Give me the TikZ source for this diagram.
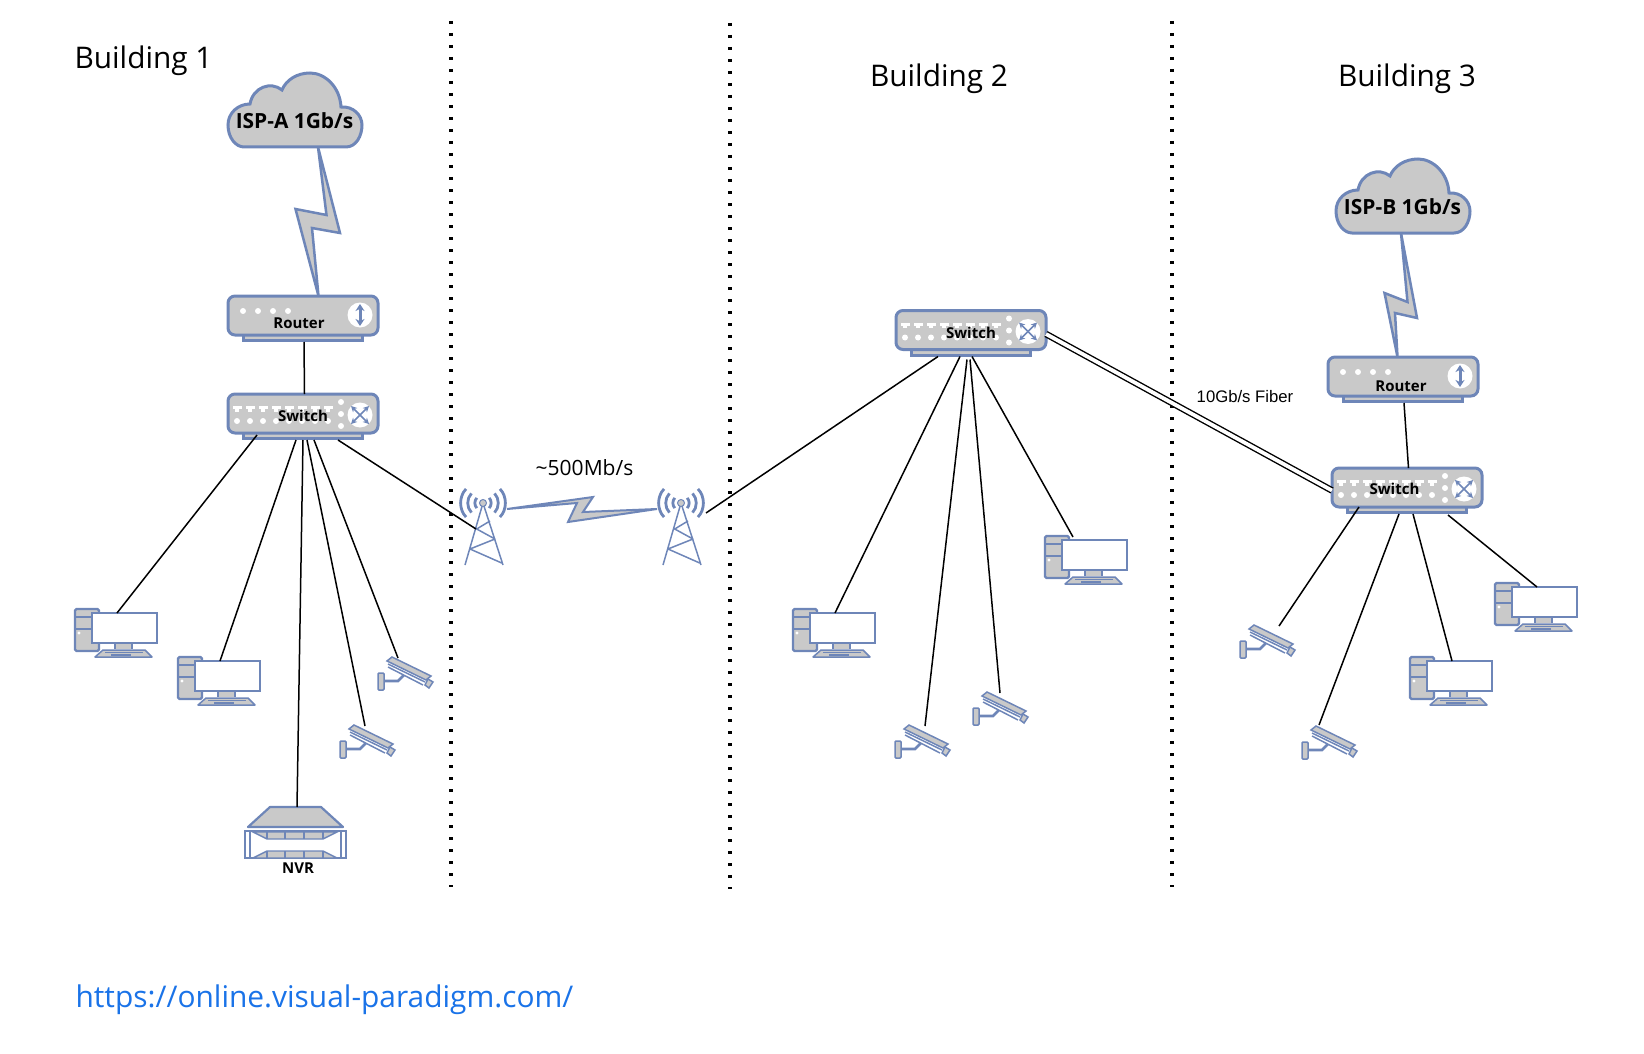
\documentclass[tikz,border=0pt]{standalone}
\usepackage{fontspec}
\setmainfont{Open Sans}
\newfontfamily\fiberfont{Liberation Sans}
\usetikzlibrary{arrows.meta, positioning, calc}
\definecolor{netblue}{HTML}{6E86B8}
\definecolor{netgray}{HTML}{C9C9C9}
\definecolor{urlblue}{HTML}{1A73E8}

\begin{document}
\begin{tikzpicture}[
    x=1pt, y=-1pt,
    devbox/.style={draw=netblue, fill=netgray, line width=3pt, rounded corners=7pt,
                   minimum width=150pt, minimum height=39pt, inner sep=0pt, outer sep=0pt},
    devtext/.style={font=\fontsize{15}{18}\selectfont\bfseries, inner sep=0pt},
    isptext/.style={font=\fontsize{20.9}{24}\selectfont\bfseries, inner sep=0pt},
    bldtext/.style={font=\fontsize{29.8}{34}\selectfont, inner sep=0pt},
    shape line/.style={draw=netblue, fill=netgray, line width=2.2pt},
    bolt/.style={draw=netblue, fill=netgray, line width=2.5pt, line join=miter},
    link/.style={draw=black, line width=1.5pt},
    fiber/.style={draw=black, line width=1.4pt, double=white, double distance=3.8pt},
    pics/router/.style={code={
      \fill[netblue] (15,38) rectangle (137,46);
      \fill[netgray] (18,38) rectangle (134,43);
      \node[devbox] (-body) at (76,19.5) {};
      \coordinate (-foot) at (75.5,46);
      \foreach \dotx in {16,31,46,61} \fill[white] (\dotx,15) circle (3);
      \fill[white] (133,19) circle (12.5);
      \draw[netblue, line width=3pt, {Stealth[length=7pt,width=9pt]}-{Stealth[length=7pt,width=9pt]}]
        (133,8) -- (133,30);
      \node[devtext] (-label) at (#1) {Router};
    }},
    pics/router/.default={72,27},
    pics/switch/.style={code={
      \fill[netblue] (15,38) rectangle (137,46);
      \fill[netgray] (18,38) rectangle (134,43);
      \node[devbox] (-body) at (76,19.5) {};
      \coordinate (-foot) at (75.5,46);
      \foreach \portx in {10,23,36,49,62,75,88,101} {
        \fill[white] (\portx-4.5,12) rectangle ++(9,3);
        \fill[white] (\portx-2,15) rectangle ++(4,2.5);
        \fill[white] (\portx,27) circle (3);
      }
      \foreach \doty in {8,20,32} \fill[white] (114,\doty) circle (3);
      \fill[white] (133,21) circle (12.5);
      \draw[netblue, line width=1.5pt, {Stealth[length=6pt,width=6pt]}-{Stealth[length=6pt,width=6pt]}]
        (124,12) -- (142,30);
      \draw[netblue, line width=1.5pt, {Stealth[length=6pt,width=6pt]}-{Stealth[length=6pt,width=6pt]}]
        (142,12) -- (124,30);
      \node[devtext] (-label) at (#1) {Switch};
    }},
    pics/switch/.default={76,22},
    pics/isp/.style={code={
      \draw[draw=netblue, fill=netgray, line width=3pt]
        (17,74) -- (119,74) .. controls (129,74) and (135,63) .. (135,52)
        .. controls (135,42) and (126,33) .. (114,34)
        .. controls (113,14) and (98,0) .. (83,0)
        .. controls (70,0) and (59,7) .. (55,17)
        .. controls (44,8) and (26,14) .. (23,31)
        .. controls (11,31) and (1,40) .. (1,52)
        .. controls (1,65) and (9,74) .. (17,74) -- cycle;
      \coordinate (-foot) at (68,74);
      \node[isptext] (-label) at (67.5,48) {#1};
    }},
    pics/pc/.style={code={
      \draw[shape line, rounded corners=1.5pt] (0,0) rectangle (24,42);
      \draw[netblue, line width=1.6pt] (0,8) -- (17,8) (0,20) -- (17,20);
      \fill[white] (4,24) circle (1.7);
      \fill[netgray] (40,34) rectangle (57,40);
      \draw[netblue, line width=1.2pt] (40,34) -- (40,40) (57,34) -- (57,40);
      \draw[draw=netblue, fill=white, line width=2.8pt] (17,4) rectangle (82,34);
      \draw[shape line, line width=1.5pt, line join=round] (28,41) -- (70,41) -- (77,48) -- (20,48) -- cycle;
      \draw[netblue, line width=1.4pt] (30,43.5) -- (68,43.5) (36,46) -- (56,46);
      \coordinate (-top) at (42,4);
    }},
    pics/cam/.style={code={
      \draw[shape line, line width=1.5pt, rounded corners=1pt] (0,0) rectangle (6,17);
      \draw[netblue, line width=2.6pt] (6,8) -- (20,8) -- (26,2);
      \draw[netblue, line width=1.5pt] (10,-9) -- (47,9) (10,-6) -- (45,12);
      \draw[shape line, line width=1.5pt] (14,-16) -- (53,3) -- (48,7) -- (9,-12) -- cycle;
      \draw[shape line, line width=1.5pt] (50,6) -- (55,9) -- (51,15) -- (47,12) -- cycle;
      \coordinate (-top) at (20,-15);
    }},
    pics/mast/.style={code={
      \draw[netblue, line width=1.5pt, line join=round]
        (-18,62) -- (0,0) -- (20,62)
        (7,18) -- (-6.3,26) -- (12,36) -- (-13,46) -- (18.7,60);
      \fill[netgray, draw=netblue, line width=1pt] (0,0) circle (3.5);
      \foreach \rr in {8,15,22} \foreach \sgn in {1,-1}
        \draw[netblue, line width=2.8pt]
          ({\sgn*\rr*.77},{-\rr*.64}) .. controls ({\sgn*\rr*1.1},{-\rr*.3})
          and ({\sgn*\rr*1.1},{\rr*.3}) .. ({\sgn*\rr*.77},{\rr*.64});
      \coordinate (-leg) at (-7,26);
    }},
    pics/nvr/.style={code={
      \draw[shape line, line join=round] (25,0) -- (76,0) -- (98,20) -- (3,20) -- cycle;
      \draw[netblue, line width=1.8pt] (0,24) rectangle (101,51) (5,24) -- (5,51) (96,24) -- (96,51);
      \draw[shape line, line width=1.4pt] (8,25) -- (92,25) -- (78,32) -- (22,32) -- cycle;
      \draw[shape line, line width=1.4pt] (8,51) -- (22,44) -- (78,44) -- (92,51) -- cycle;
      \draw[netblue, line width=1.4pt] (22,25) -- (22,32) (40,25) -- (40,32) (59,25) -- (59,32) (78,25) -- (78,32)
        (22,44) -- (22,51) (40,44) -- (40,51) (59,44) -- (59,51) (78,44) -- (78,51);
      \coordinate (-top) at (52,0);
      \node[devtext] (-label) at (53,61) {NVR};
    }}
  ]
  \useasboundingbox (0,0) rectangle (1644,1054);

  % Building borders
  \foreach \borderx/\bordery in {451/21, 730/23, 1172/21}
    \draw[black, line width=3.4pt, dash pattern=on 3.4pt off 8.6pt] (\borderx,\bordery) -- (\borderx,\bordery+866);

  % Titles
  \node[bldtext] (bld1) at (143.5,61) {Building 1};
  \node[bldtext] (bld2) at (939,79) {Building 2};
  \node[bldtext] (bld3) at (1407,79) {Building 3};
  \node[font=\fontsize{21}{24}\selectfont, inner sep=0pt] (wifilabel) at (584.5,468) {\textasciitilde500Mb/s};
  \node[font=\fontsize{16.7}{20}\selectfont\fiberfont, inner sep=0pt] (fiberlabel) at (1245,397) {10Gb/s Fiber};
  \node[font=\fontsize{29.9}{34}\selectfont, text=urlblue, inner sep=0pt] (url) at (324.5,1000) {https://online.visual-paradigm.com/};

  % Building 1 devices
  \pic (isp1) at (227,73) {isp={ISP-A 1Gb/s}};
  \pic (rt1) at (227,296) {router};
  \pic (sw1) at (227,394) {switch};
  \pic (pc1) at (75,609) {pc};
  \pic (pc2) at (178,657) {pc};
  \pic (cam1) at (378,673) {cam};
  \pic (cam2) at (340,741) {cam};
  \pic (nvr1) at (245,807) {nvr};

  % Radio link
  \pic (tw1) at (483,503) {mast};
  \pic (tw2) at (681,503) {mast};
  \coordinate (tw1e) at (507,509);
  \coordinate (tw2w) at (657,509);
  \coordinate (tw2e) at (706,513);

  % Building 2 devices
  \pic (sw2) at (895,310.5) {switch};
  \pic (pc3) at (793,609) {pc};
  \pic (pc4) at (1045,536) {pc};
  \pic (cam3) at (895,741) {cam};
  \pic (cam4) at (973,708) {cam};

  % Building 3 devices
  \pic (isp2) at (1335,159) {isp={ISP-B 1Gb/s}};
  \pic (rt2) at (1327,357) {router={74,29}};
  \pic (sw3) at (1331,468) {switch={63.5,21}};
  \pic (pc5) at (1495,583) {pc};
  \pic (pc6) at (1410,657) {pc};
  \pic (cam5) at (1240,641) {cam};
  \pic (cam6) at (1302,742) {cam};

  % Bolts
  \draw[bolt] ([xshift=23pt]isp1-foot) -- ++(22,86) -- ++(-28,-5)
    -- ([xshift=15.5pt]rt1-body.north) -- ++(-23,-87) -- ++(31,6) -- cycle;
  \draw[bolt] ([xshift=-2pt]isp2-foot) -- ++(16,85) -- ++(-22,-5)
    -- ([xshift=-5.5pt]rt2-body.north) -- ++(-13,-64) -- ++(23,9) -- cycle;
  \draw[bolt, line width=2pt] (tw1e) -- ++(86,-12) -- ++(-10,15)
    -- (tw2w) -- ++(-89,13) -- ++(9,-19) -- cycle;

  % Building 1 links
  \draw[link] ([xshift=1.5pt]rt1-foot) -- ([xshift=1.5pt]sw1-body.north);
  \draw[link] ([xshift=-45.5pt,yshift=5pt]sw1-foot) -- (pc1-top);
  \draw[link] ([xshift=-6.5pt]sw1-foot) -- (pc2-top);
  \draw[link] ([xshift=0.5pt]sw1-foot) -- (nvr1-top);
  \draw[link] ([xshift=4.5pt]sw1-foot) -- ([xshift=5pt]cam2-top);
  \draw[link] ([xshift=11.5pt]sw1-foot) -- (cam1-top);
  \draw[link] ([xshift=35.5pt]sw1-foot) -- (tw1-leg);

  % Building 2 links
  \draw[link] (tw2e) -- ([xshift=-32.5pt]sw2-foot);
  \draw[link] ([xshift=-10.5pt]sw2-foot) -- (pc3-top);
  \draw[link] ([xshift=-3.5pt,yshift=-3pt]sw2-foot) -- ([xshift=10pt]cam3-top);
  \draw[link] ([xshift=-0.5pt,yshift=-3pt]sw2-foot) -- ([xshift=7pt]cam4-top);
  \draw[link] ([xshift=1.5pt]sw2-foot) -- ([xshift=-14pt,yshift=3pt]pc4-top);

  % Fiber
  \draw[fiber] ([yshift=-4pt]sw2-body.east) -- ([yshift=-3pt]sw3-body.west);

  % Building 3 links
  \draw[link] ([xshift=1.5pt]rt2-foot) -- ([xshift=1.5pt]sw3-body.north);
  \draw[link] ([xshift=-47.5pt,yshift=7pt]sw3-foot) -- ([xshift=19pt]cam5-top);
  \draw[link] ([xshift=-7.5pt]sw3-foot) -- ([xshift=-3pt,yshift=2pt]cam6-top);
  \draw[link] ([xshift=6.5pt]sw3-foot) -- (pc6-top);
  \draw[link] ([xshift=41.5pt,yshift=-1pt]sw3-foot) -- (pc5-top);

\end{tikzpicture}
\end{document}
